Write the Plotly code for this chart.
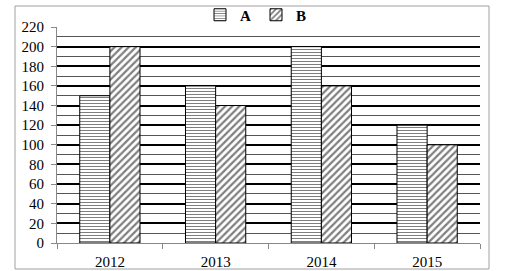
import plotly.graph_objects as go

years = ["2012", "2013", "2014", "2015"]
series_a = [150, 160, 200, 120]
series_b = [200, 140, 160, 100]
y_ticks = list(range(0, 221, 20))

W, H = 518, 271
L, R, T, B = 57, 38, 27, 28
pw, ph = W - L - R, H - T - B

fig = go.Figure()
fig.add_bar(x=years, y=series_a, name="A",
            marker=dict(color="white", line=dict(color="black", width=1),
                        pattern=dict(shape="-", fgcolor="black", bgcolor="white",
                                     size=3, solidity=0.34, fillmode="overlay")))
fig.add_bar(x=years, y=series_b, name="B",
            marker=dict(color="white", line=dict(color="black", width=1),
                        pattern=dict(shape="/", fgcolor="black", bgcolor="white",
                                     size=5, solidity=0.45, fillmode="overlay")))

font = "Liberation Serif, DejaVu Serif, serif"
fig.update_layout(
    width=W, height=H,
    margin=dict(l=L, r=R, t=T, b=B, autoexpand=False),
    paper_bgcolor="white", plot_bgcolor="white",
    barmode="group", bargap=0.43, bargroupgap=0,
    font=dict(family=font, size=15, color="black"),
    showlegend=True,
    legend=dict(orientation="h", x=(256 - L) / pw, xanchor="center",
                y=((H - B) - 15) / ph, yanchor="middle",
                font=dict(family=font, size=15, color="black", weight="bold"),
                itemwidth=30, bgcolor="rgba(0,0,0,0)"),
    shapes=[dict(type="rect", xref="paper", yref="paper",
                 x0=(15 - L) / pw, x1=(489 - L) / pw,
                 y0=-(269 - (H - B)) / ph, y1=((H - B) - 6) / ph,
                 line=dict(color="#a0a0a0", width=1), layer="below")],
)
fig.update_xaxes(type="category", showline=True, linecolor="#888888", linewidth=1,
                 ticks="outside", tickson="boundaries", ticklen=5, tickcolor="#888888",
                 showgrid=False, tickfont=dict(family=font, size=15),
                 ticklabelstandoff=5, automargin=False)
fig.update_yaxes(range=[0, 220], tickvals=y_ticks, showline=True, linecolor="#888888",
                 linewidth=1, ticks="outside", ticklen=5, tickcolor="#888888",
                 showgrid=True, gridcolor="black", gridwidth=2,
                 minor=dict(dtick=10, showgrid=True, gridcolor="#555555", gridwidth=1.3),
                 zeroline=False, tickfont=dict(family=font, size=15),
                 ticklabelstandoff=4, automargin=False)

fig.write_html("out.html")
